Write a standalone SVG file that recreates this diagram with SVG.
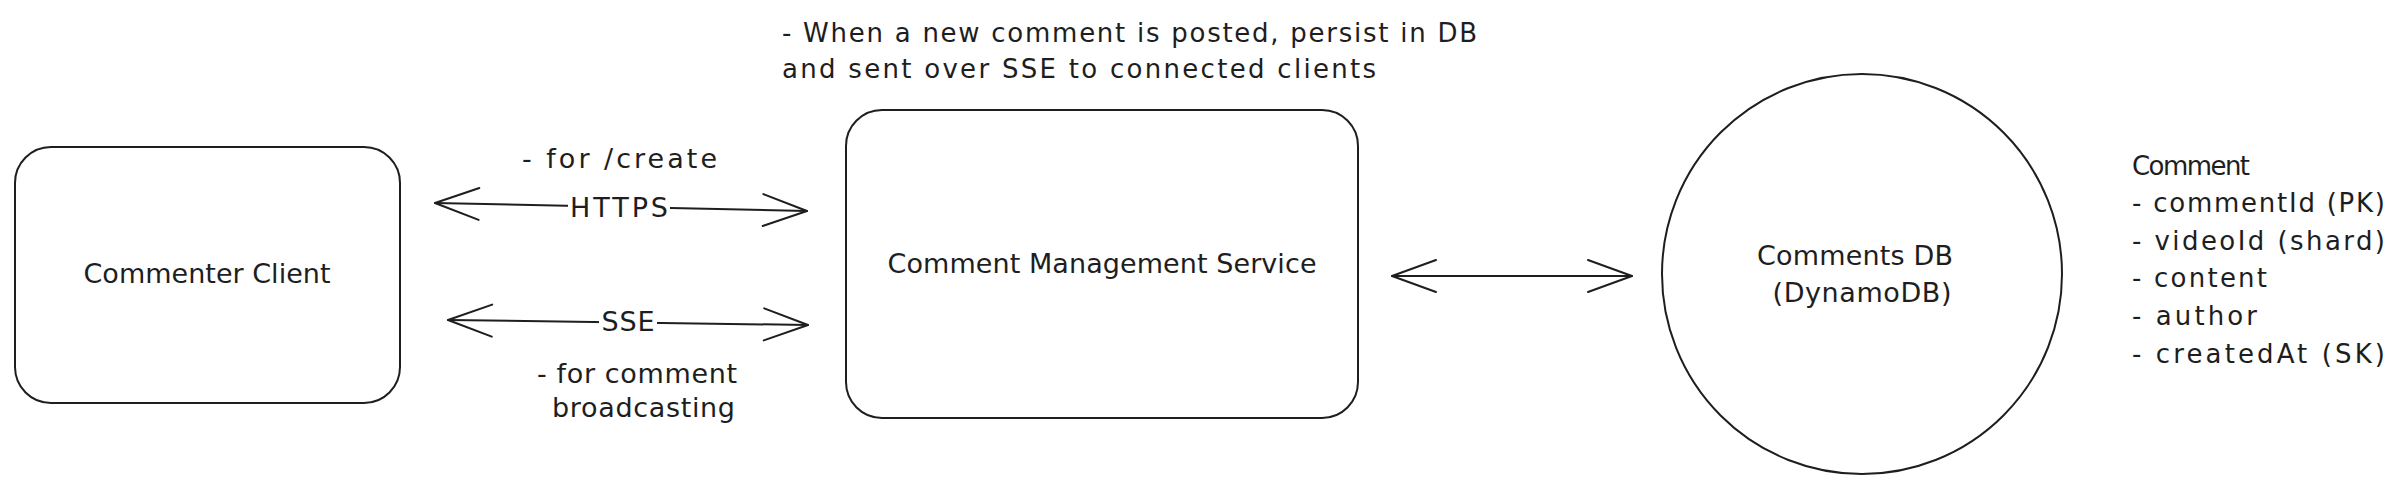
<svg xmlns="http://www.w3.org/2000/svg" width="2400" height="491" viewBox="0 0 2400 491">
  <style>
    .shape { fill: #ffffff; stroke: #1e1e1e; stroke-width: 2; }
    .line { fill: none; stroke: #1e1e1e; stroke-width: 2; stroke-linecap: round; }
    .t { font-family: "DejaVu Sans", "Liberation Sans", sans-serif; fill: #1e1e1e; }
    .big { font-size: 27px; }
    .lbl { font-size: 27px; }
    .note { font-size: 26px; }
    .list { font-size: 26px; }
    .mask { fill: #ffffff; stroke: none; }
  </style>
  <defs>
    <marker id="head" viewBox="-47 -19 51 38" markerWidth="51" markerHeight="38" refX="0" refY="0" markerUnits="userSpaceOnUse" orient="auto-start-reverse">
      <path d="M -44 -16 L 0 0 L -44 16" fill="none" stroke="#1e1e1e" stroke-width="2" stroke-linecap="round" stroke-linejoin="round"/>
    </marker>
  </defs>
  <rect width="2400" height="491" fill="#ffffff"/>

  <g id="connectors">
    <g id="conn-https">
      <line class="line" x1="435" y1="203" x2="807" y2="211" marker-start="url(#head)" marker-end="url(#head)"/>
      <rect class="mask" x="568" y="196" width="102" height="24"/>
      <text class="t lbl" x="619" y="217" text-anchor="middle" textLength="98" lengthAdjust="spacing">HTTPS</text>
      <text class="t lbl" x="522" y="168" textLength="195" lengthAdjust="spacing">- for /create</text>
    </g>
    <g id="conn-sse">
      <line class="line" x1="448" y1="320" x2="808" y2="325" marker-start="url(#head)" marker-end="url(#head)"/>
      <rect class="mask" x="599" y="310" width="58" height="24"/>
      <text class="t lbl" x="628" y="331" text-anchor="middle" textLength="53" lengthAdjust="spacing">SSE</text>
      <text class="t lbl" x="537" y="383" textLength="200" lengthAdjust="spacing">- for comment</text>
      <text class="t lbl" x="552" y="417" textLength="183" lengthAdjust="spacing">broadcasting</text>
    </g>
    <g id="conn-db">
      <line class="line" x1="1392" y1="276" x2="1632" y2="276" marker-start="url(#head)" marker-end="url(#head)"/>
    </g>
  </g>

  <g id="node-client">
    <rect class="shape" x="15" y="147" width="385" height="256" rx="36" ry="36"/>
    <text class="t big" x="207" y="283" text-anchor="middle" textLength="247" lengthAdjust="spacing">Commenter Client</text>
  </g>

  <g id="node-service">
    <rect class="shape" x="846" y="110" width="512" height="308" rx="36" ry="36"/>
    <text class="t big" x="1102" y="273" text-anchor="middle" textLength="429" lengthAdjust="spacing">Comment Management Service</text>
  </g>

  <g id="note-service">
    <text class="t note" x="782" y="42" textLength="695" lengthAdjust="spacing">- When a new comment is posted, persist in DB</text>
    <text class="t note" x="782" y="78" textLength="594" lengthAdjust="spacing">and sent over SSE to connected clients</text>
  </g>

  <g id="node-db">
    <circle class="shape" cx="1862" cy="274" r="200"/>
    <text class="t big" x="1855" y="265" text-anchor="middle" textLength="196" lengthAdjust="spacing">Comments DB</text>
    <text class="t big" x="1862" y="302" text-anchor="middle" textLength="179" lengthAdjust="spacing">(DynamoDB)</text>
  </g>

  <g id="note-schema">
    <text class="t list" x="2132" y="175" textLength="118" lengthAdjust="spacing">Comment</text>
    <text class="t list" x="2132" y="212" textLength="253" lengthAdjust="spacing">- commentId (PK)</text>
    <text class="t list" x="2132" y="250" textLength="253" lengthAdjust="spacing">- videoId (shard)</text>
    <text class="t list" x="2132" y="287" textLength="135" lengthAdjust="spacing">- content</text>
    <text class="t list" x="2132" y="325" textLength="125" lengthAdjust="spacing">- author</text>
    <text class="t list" x="2132" y="363" textLength="253" lengthAdjust="spacing">- createdAt (SK)</text>
  </g>
</svg>
